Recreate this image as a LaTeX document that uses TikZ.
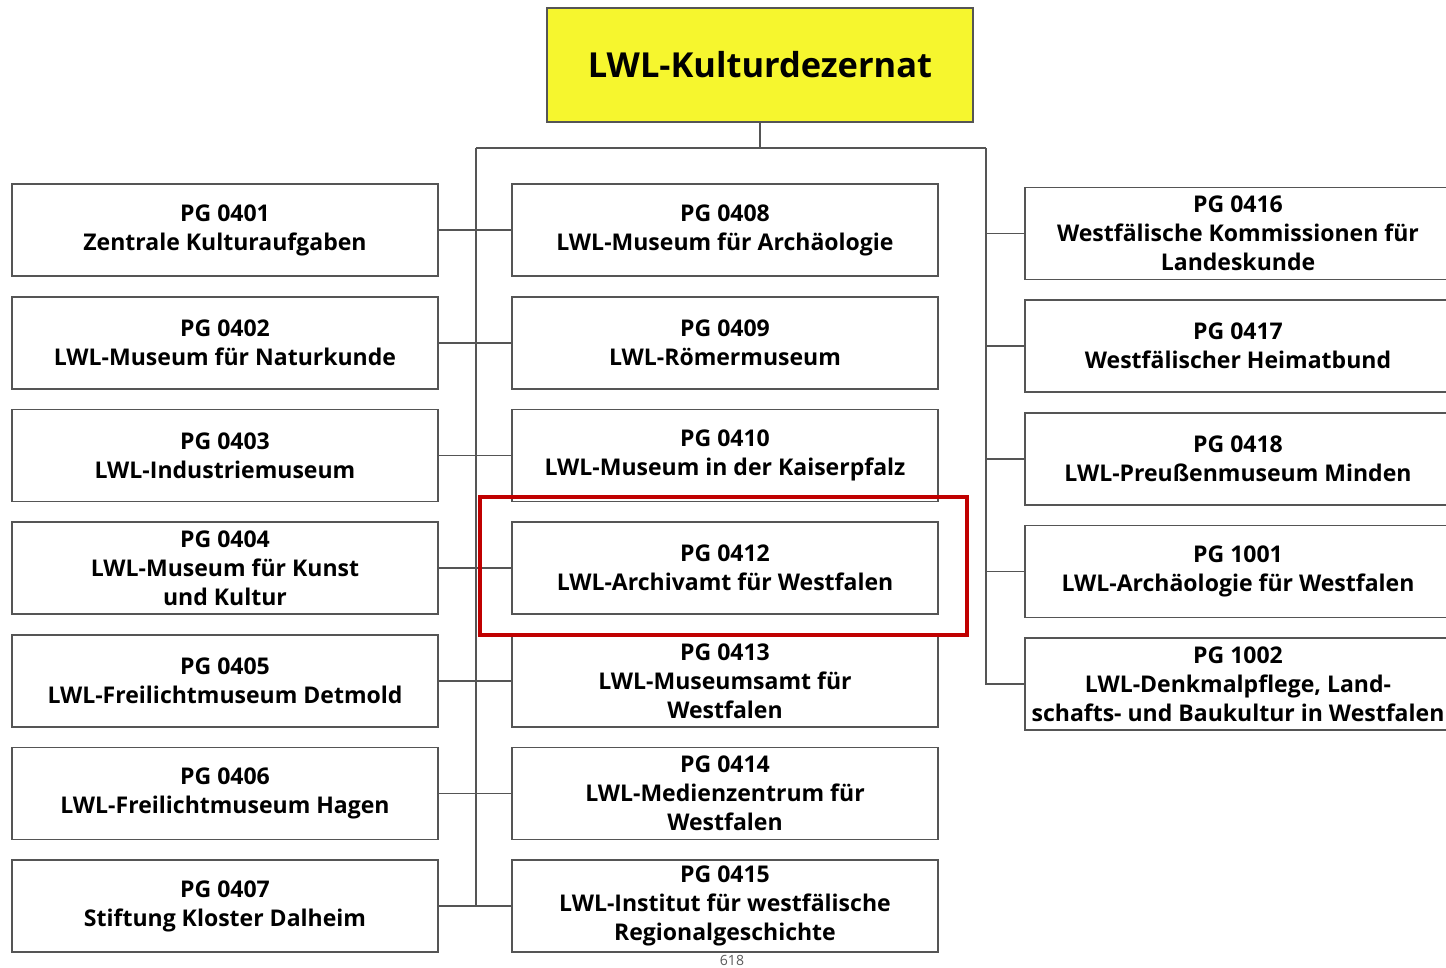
\documentclass[tikz,border=0pt]{standalone}
\usepackage{fontspec}
\setmainfont{Open Sans}
\usepackage{xcolor}
\definecolor{kdyellow}{RGB}{246,246,46}
\definecolor{kdline}{RGB}{85,85,85}
\definecolor{kdred}{RGB}{192,0,0}
\definecolor{kdgray}{RGB}{90,90,90}
\usetikzlibrary{calc}

\begin{document}
\begin{tikzpicture}[
  x=0.02cm,y=-0.02cm,
  pgbox/.style={draw=kdline,line width=1pt,fill=white,align=center,
    font=\fontsize{13.1}{16.6}\selectfont\bfseries,
    execute at begin node={\rule{0pt}{1.2em}},
    minimum width=8.52cm,minimum height=1.84cm,inner sep=0pt},
  conn/.style={draw=kdline,line width=1pt},
  hilite/.style={draw=kdred,line width=2.4pt}
]
  \useasboundingbox (0,0) rectangle (1446,967);
  % Head
  \node[draw=kdline,line width=1pt,fill=kdyellow,minimum width=8.52cm,minimum height=2.28cm,
    font=\fontsize{19.6}{24}\selectfont\bfseries] (top) at (760,65) {LWL-Kulturdezernat};
  % Left column
  \node[pgbox] (l1) at (225,230) {PG 0401\\Zentrale Kulturaufgaben};
  \node[pgbox] (l2) at (225,343) {PG 0402\\LWL-Museum für Naturkunde};
  \node[pgbox] (l3) at (225,455.5) {PG 0403\\LWL-Industriemuseum};
  \node[pgbox] (l4) at (225,568) {PG 0404\\LWL-Museum für Kunst\\und Kultur};
  \node[pgbox] (l5) at (225,681) {PG 0405\\LWL-Freilichtmuseum Detmold};
  \node[pgbox] (l6) at (225,793.5) {PG 0406\\LWL-Freilichtmuseum Hagen};
  \node[pgbox] (l7) at (225,906) {PG 0407\\Stiftung Kloster Dalheim};
  % Middle column
  \node[pgbox] (m1) at (725,230) {PG 0408\\LWL-Museum für Archäologie};
  \node[pgbox] (m2) at (725,343) {PG 0409\\LWL-Römermuseum};
  \node[pgbox] (m3) at (725,455.5) {PG 0410\\LWL-Museum in der Kaiserpfalz};
  \node[pgbox] (m4) at (725,568) {PG 0412\\LWL-Archivamt für Westfalen};
  \node[pgbox] (m5) at (725,681) {PG 0413\\LWL-Museumsamt für\\Westfalen};
  \node[pgbox] (m6) at (725,793.5) {PG 0414\\LWL-Medienzentrum für\\Westfalen};
  \node[pgbox] (m7) at (725,906) {PG 0415\\LWL-Institut für westfälische\\Regionalgeschichte};
  % Right column
  \node[pgbox] (r1) at (1238,233.5) {PG 0416\\Westfälische Kommissionen für\\Landeskunde};
  \node[pgbox] (r2) at (1238,346) {PG 0417\\Westfälischer Heimatbund};
  \node[pgbox] (r3) at (1238,459) {PG 0418\\LWL-Preußenmuseum Minden};
  \node[pgbox] (r4) at (1238,571.5) {PG 1001\\LWL-Archäologie für Westfalen};
  \node[pgbox] (r5) at (1238,684) {PG 1002\\LWL-Denkmalpflege, Land-\\schafts- und Baukultur in Westfalen};
  % Bus lines
  \coordinate (bus) at (760,148);
  \coordinate (busL) at (476,148);
  \coordinate (busR) at (986,148);
  \draw[conn] (top.south) -- (bus);
  \draw[conn] (busL) -- (busR);
  \draw[conn] (busL) -- (busL |- m7.west);
  \draw[conn] (busR) |- (r5.west);
  \foreach \n in {1,...,7}
    \draw[conn] (l\n.east) -- (m\n.west);
  \foreach \n in {1,...,4}
    \draw[conn] (busR |- r\n.west) -- (r\n.west);
  % Highlight
  \draw[hilite] ([shift={(-31,-24)}]m4.north west) rectangle ([shift={(28,20)}]m4.south east);
  % Page number
  \node[font=\fontsize{8}{9}\selectfont,text=kdgray,inner sep=0pt] (pagenum) at (732,960) {618};
\end{tikzpicture}
\end{document}
